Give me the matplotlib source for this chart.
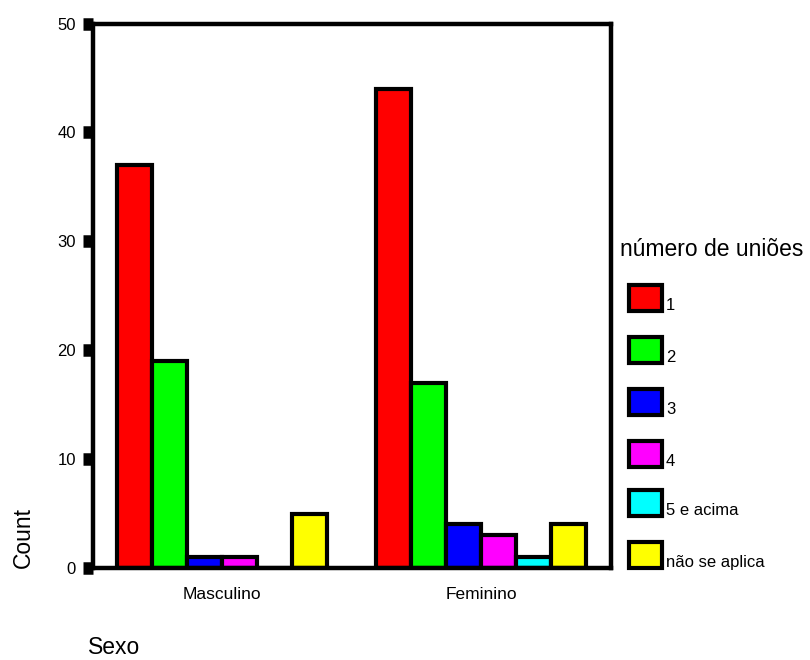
import numpy as np
import matplotlib.pyplot as plt
from matplotlib.patches import Rectangle

plt.rcParams['font.family'] = ['Liberation Sans', 'DejaVu Sans']

# dados
grupos = ["Masculino", "Feminino"]
categorias = ["1", "2", "3", "4", "5 e acima", "não se aplica"]
masculino = [37, 19, 1, 1, 0, 5]
feminino = [44, 17, 4, 3, 1, 4]
cores = ["#ff0000", "#00ff00", "#0000ff", "#ff00ff", "#00ffff", "#ffff00"]

W, H = 810, 660
fig = plt.figure(figsize=(8.1, 6.6), dpi=100)
ax = fig.add_axes([92.5 / W, (H - 568) / H, 518 / W, 544.5 / H])

valores = np.array([masculino, feminino])
largura = 0.135
x = np.arange(len(grupos))
n = len(categorias)

for i in range(n):
    pos = x - largura * n / 2 + largura * (i + 0.5)
    ax.bar(pos, valores[:, i], width=largura, color=cores[i],
           edgecolor="black", linewidth=3, zorder=2)

ax.set_xlim(-0.5, 1.5)
ax.set_ylim(0, 50)
ax.set_yticks([0, 10, 20, 30, 40, 50])
ax.set_xticks(x)
ax.set_xticklabels(grupos)

for s in ax.spines.values():
    s.set_linewidth(3.2)
    s.set_zorder(3)

ax.tick_params(axis="y", direction="out", length=7, width=9, pad=5,
               labelsize=12, color="black")
ax.tick_params(axis="x", length=0, pad=14, labelsize=12.5)

fig.text(23 / W, 1 - 568 / H, "Count", rotation=90, ha="center", va="bottom",
         fontsize=16.5)
fig.text(88 / W, 1 - 654 / H, "Sexo", ha="left", va="baseline", fontsize=16.5)

# legenda
fig.text(620 / W, 1 - 256.5 / H, "número de uniões", ha="left",
         va="baseline", fontsize=16.5)
centros = [298, 350, 402, 453.5, 503, 555]
for lab, cor, cy in zip(categorias, cores, centros):
    r = Rectangle((629 / W, 1 - (cy + 13) / H), 33 / W, 26 / H,
                  transform=fig.transFigure, facecolor=cor,
                  edgecolor="black", linewidth=3)
    fig.patches.append(r)
    fig.text(666 / W, 1 - (cy + 12) / H, lab, ha="left", va="baseline",
             fontsize=12)

fig.savefig("out.png", dpi=100)
